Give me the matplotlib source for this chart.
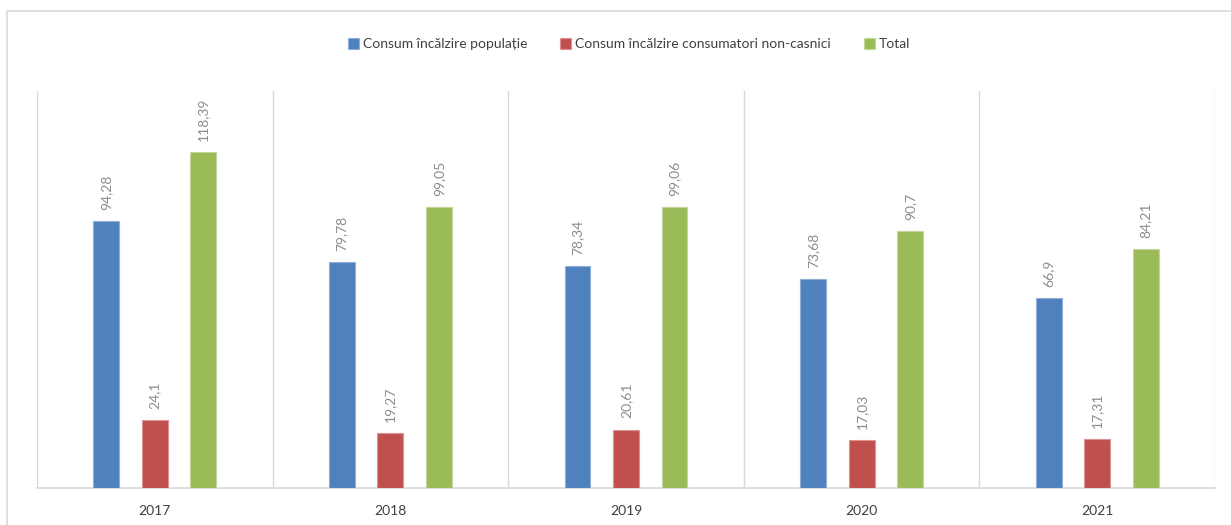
import numpy as np
import matplotlib.pyplot as plt
from matplotlib.patches import Rectangle

plt.rcParams['font.family'] = ['Lato', 'DejaVu Sans']

years = ['2017', '2018', '2019', '2020', '2021']
populatie = [94.28, 79.78, 78.34, 73.68, 66.9]
non_casnici = [24.1, 19.27, 20.61, 17.03, 17.31]
total = [118.39, 99.05, 99.06, 90.7, 84.21]

series = [
    ('Consum încălzire populație', populatie, '#4F81BD', '#8DAFD8'),
    ('Consum încălzire consumatori non-casnici', non_casnici, '#C0504D', '#DC9391'),
    ('Total', total, '#9BBB59', '#C3D79A'),
]

fig = plt.figure(figsize=(12.31, 5.25), dpi=100)
# thin frame round the chart area
fig.patches.append(Rectangle((7 / 1231, -0.01), 1.0, 1 - 11 / 525 + 0.01,
                             transform=fig.transFigure, fill=False,
                             edgecolor='#d9d9d9', linewidth=1.2))

ax = fig.add_axes([37 / 1231, 37 / 525, (1215 - 37) / 1231, (488 - 91) / 525])

x = np.arange(len(years))
width = 0.11
step = 0.206

for i, (name, vals, color, edge) in enumerate(series):
    pos = x + (i - 1) * step
    ax.bar(pos, vals, width, color=color, edgecolor=edge, linewidth=0.8,
           label=name, zorder=3)
    for px, v in zip(pos, vals):
        ax.annotate(f'{v:g}'.replace('.', ','), xy=(px, v), xytext=(0, 8),
                    textcoords='offset points', rotation=90, ha='center',
                    va='bottom', fontsize=10, color='#8c8c8c')

ax.set_xlim(-0.5, len(years) - 0.5)
ax.set_ylim(0, 140)
ax.set_yticks([])
ax.set_xticks(x)
ax.set_xticklabels(years, fontsize=10, color='#404040')
ax.tick_params(axis='x', length=0, pad=12)

# category separators
for b in np.arange(-0.5, len(years), 1):
    ax.axvline(b, color='#d9d9d9', linewidth=1, zorder=1)

for s in ['top', 'right', 'left']:
    ax.spines[s].set_visible(False)
ax.spines['bottom'].set_color('#d9d9d9')
ax.spines['bottom'].set_linewidth(1.2)

fig.legend(loc='center', bbox_to_anchor=(0.511, 1 - 44 / 525), ncol=3,
           frameon=False, fontsize=10, handlelength=0.8, handleheight=0.8,
           handletextpad=0.3, columnspacing=2.35, labelcolor='#404040')

fig.savefig('out.png', dpi=100)
